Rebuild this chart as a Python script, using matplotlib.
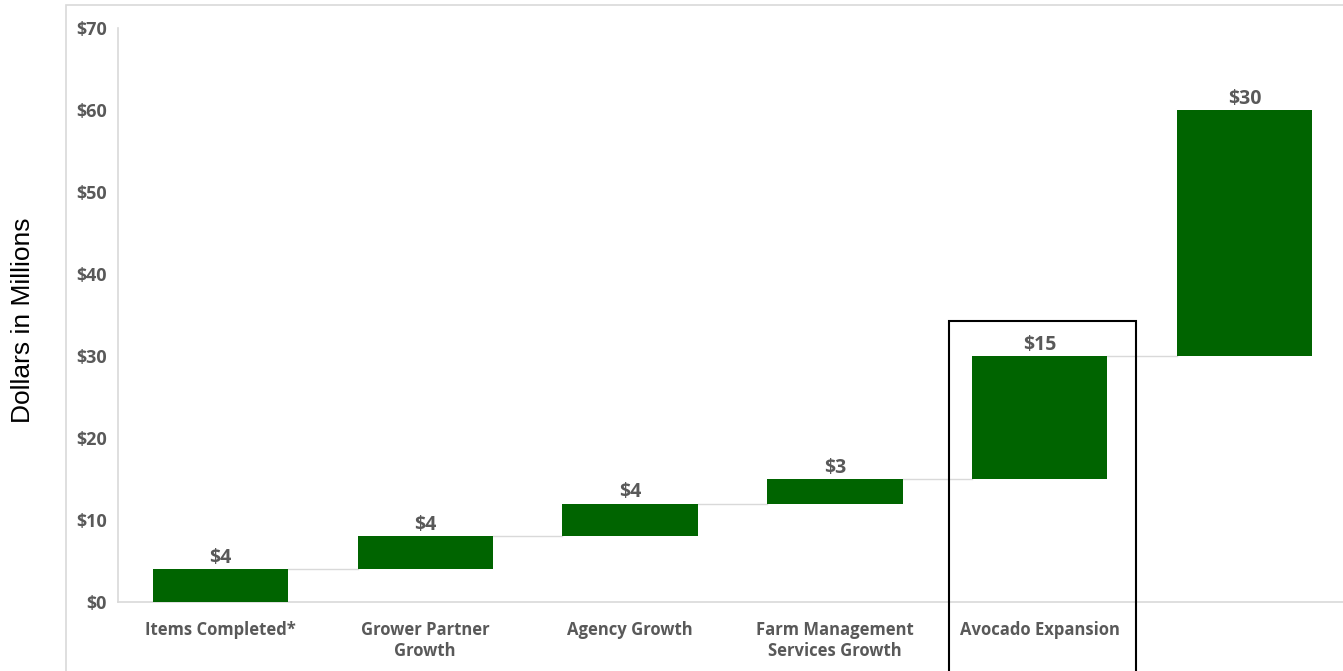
import numpy as np
import matplotlib.pyplot as plt
from matplotlib.patches import Rectangle

# Данные водопада
categories = ['Items Completed*', 'Grower Partner\nGrowth', 'Agency Growth',
              'Farm Management\nServices Growth', 'Avocado Expansion', '']
increments = [4, 4, 4, 3, 15, 30]
value_labels = ['$4', '$4', '$4', '$3', '$15', '$30']
y_ticks = [0, 10, 20, 30, 40, 50, 60, 70]

GREEN = '#006400'
GRAY_TXT = '#595959'
GRID = '#d9d9d9'
W, H = 1343, 671

bottoms = np.concatenate([[0], np.cumsum(increments)[:-1]])
tops = bottoms + np.array(increments)
x = np.arange(len(categories))
bar_w = 0.66

fig = plt.figure(figsize=(W / 100, H / 100), dpi=100)

# внешняя рамка картинки
fig.patches.append(Rectangle((66 / W, -0.1), 1.1, 1.1 - 5 / H, transform=fig.transFigure,
                             fill=False, edgecolor=GRID, linewidth=1.2))

ax = fig.add_axes([118 / W, (H - 602) / H, (1347 - 118) / W, (602 - 28) / H])
ax.bar(x, increments, bottom=bottoms, width=bar_w, color=GREEN, zorder=3)

# соединительные линии
for i in range(len(x) - 1):
    ax.plot([x[i] + bar_w / 2, x[i + 1] - bar_w / 2], [tops[i], tops[i]],
            color=GRID, linewidth=1, zorder=2)

for xi, top, lab in zip(x, tops, value_labels):
    ax.annotate(lab, (xi, top), xytext=(0, 1), textcoords='offset points',
                ha='center', va='bottom', fontsize=14, fontweight='bold',
                color=GRAY_TXT, family='Open Sans')

ax.set_xlim(-0.5, len(x) - 0.5)
ax.set_ylim(0, 70)
ax.set_yticks(y_ticks)
ax.set_yticklabels(['$%d' % v for v in y_ticks])
ax.set_xticks(x)
ax.set_xticklabels(categories, linespacing=1.15)
for lab in ax.get_xticklabels():
    lab.set_fontsize(12)
for lab in ax.get_yticklabels():
    lab.set_fontsize(13)
for lab in ax.get_xticklabels() + ax.get_yticklabels():
    lab.set_family('Open Sans')
    lab.set_fontweight('bold')
    lab.set_color(GRAY_TXT)
ax.tick_params(axis='both', length=0)
ax.tick_params(axis='x', pad=14)
ax.tick_params(axis='y', pad=8)
for s in ['top', 'right']:
    ax.spines[s].set_visible(False)
for s in ['left', 'bottom']:
    ax.spines[s].set_color(GRID)
    ax.spines[s].set_linewidth(1.2)

# рамка вокруг Avocado Expansion
ax.add_patch(Rectangle((3.555, -20), 4.468 - 3.555, 34.3 + 20, fill=False,
                       edgecolor='black', linewidth=1.5, clip_on=False, zorder=4))

fig.text(23 / W, 1 - 320 / H, 'Dollars in Millions', rotation=90, ha='center',
         va='center', fontsize=19, family='Liberation Sans', color='black')

fig.savefig('out.png', dpi=100)
